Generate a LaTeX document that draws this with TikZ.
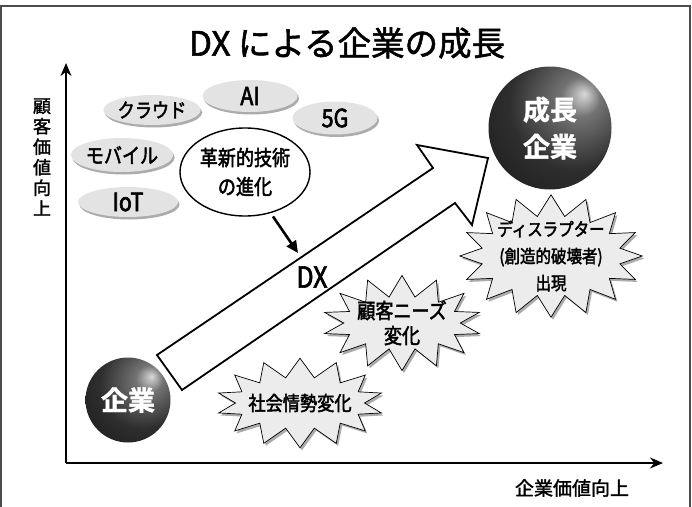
\documentclass[tikz,border=0pt]{standalone}
\usepackage{fontspec}
\setmainfont{Noto Sans CJK JP}[FakeBold=1.6]
\newfontfamily\cjkc[FakeStretch=0.86, FakeBold=2.2]{Noto Sans CJK JP}
\newfontfamily\cjkb[FakeBold=1.5]{Noto Sans CJK JP Bold}
\usetikzlibrary{shapes.geometric,shapes.symbols,arrows.meta,shadows}
\pgfdeclareradialshading{sphereshade}{\pgfpoint{14bp}{14bp}}{color(0bp)=(black!15); color(8bp)=(black!55); color(26bp)=(black!82); color(50bp)=(black!92); color(75bp)=(black)}
\tikzset{
  tag/.style={ellipse, fill=gray!22, inner sep=0pt,
    drop shadow={shadow xshift=1.5pt, shadow yshift=-2.5pt, fill=gray!65, opacity=1}},
  burst/.style={starburst, draw=black, line width=0.7pt, fill=gray!15,
    starburst point height=21pt, random starburst=0, align=center,
    drop shadow={shadow xshift=2pt, shadow yshift=-2.5pt, fill=gray!65, opacity=1}},
  sphere/.style={circle, shading=sphereshade, text=white, align=center, inner sep=0pt,
    font=\cjkb\fontsize{27}{37}\selectfont},
  axis/.style={line width=1.6pt, -{Stealth[length=13pt,width=11pt]}},
}
\begin{document}
\begin{tikzpicture}[x=1pt,y=-1pt]
\useasboundingbox (0,0) rectangle (692,506);
% frame
\draw[black!70, line width=1.5pt] (1,510) -- (1,6) -- (690,6) -- (690,510);
% title
\node (title) at (347,43) {\fontsize{33.5}{36}\selectfont DX による企業の成長};
% axes
\coordinate (O) at (66,463);
\coordinate (ytip) at (66,63);
\coordinate (xtip) at (663,463);
\draw[axis] (O) -- (ytip);
\draw[axis] (O) -- (xtip);
\node[align=center, font=\fontsize{18}{20.5}\selectfont] (ylab) at (42,157) {顧\\客\\価\\値\\向\\上};
\node[font=\fontsize{19}{22}\selectfont] (xlab) at (572,488) {企業価値向上};
% technology tags
\node[tag, minimum width=97pt, minimum height=30pt, font=\cjkc\fontsize{20}{22}\selectfont] (cloud) at (152,110) {クラウド};
\node[tag, minimum width=95pt, minimum height=32pt, font=\cjkc\fontsize{25}{26}\selectfont] (ai) at (250,96) {AI};
\node[tag, minimum width=85pt, minimum height=33pt, font=\cjkc\fontsize{25}{26}\selectfont] (fiveg) at (335,118) {5G};
\node[tag, minimum width=95pt, minimum height=34pt, font=\cjkc\fontsize{21}{22}\selectfont] (mobile) at (122,155) {モバイル};
\node[tag, minimum width=100pt, minimum height=30pt, font=\cjkc\fontsize{25}{26}\selectfont] (iot) at (128,202) {IoT};
% innovation ellipse
\node[ellipse, draw=black, line width=1.4pt, fill=white, minimum width=130pt, minimum height=88pt, inner sep=0pt, align=center, font=\cjkc\fontsize{21}{29}\selectfont] (innov) at (245,172) {革新的技術\\の進化};
% big DX arrow
\draw[line width=1.8pt, fill=white, line join=miter]
  (157,355) -- (433,168) -- (417,145) -- (488,158) -- (472,225) -- (455,203) -- (182,390) -- cycle;
\coordinate (dxin) at (298,253);
\draw[line width=2.6pt, -{Triangle[length=12pt,width=11pt]}, shorten <=4pt] (innov.-58) -- (dxin);
\node[font=\cjkc\fontsize{29}{30}\selectfont] (dx) at (312,277) {DX};
% bursts
\node[burst, starburst points=14, inner xsep=-3.5pt, inner ysep=-3.5pt, font=\cjkc\fontsize{21}{25}\selectfont] (needs) at (402,323) {顧客ニーズ\\変化};
\node[burst, starburst points=14, starburst point height=19pt, inner xsep=-6pt, inner ysep=9pt, font=\cjkc\fontsize{20}{25}\selectfont] (social) at (300,403) {社会情勢変化};
\node[burst, starburst points=16, inner xsep=-4pt, inner ysep=-7pt, font=\cjkc\fontsize{18}{27}\selectfont] (disrupt) at (551,256) {ディスラプター\\(創造的破壊者)\\出現};
% spheres
\node[sphere, minimum size=85pt] (firm) at (128,400) {企業};
\node[sphere, minimum size=123pt] (growth) at (550,128) {成長\\企業};
\end{tikzpicture}
\end{document}
